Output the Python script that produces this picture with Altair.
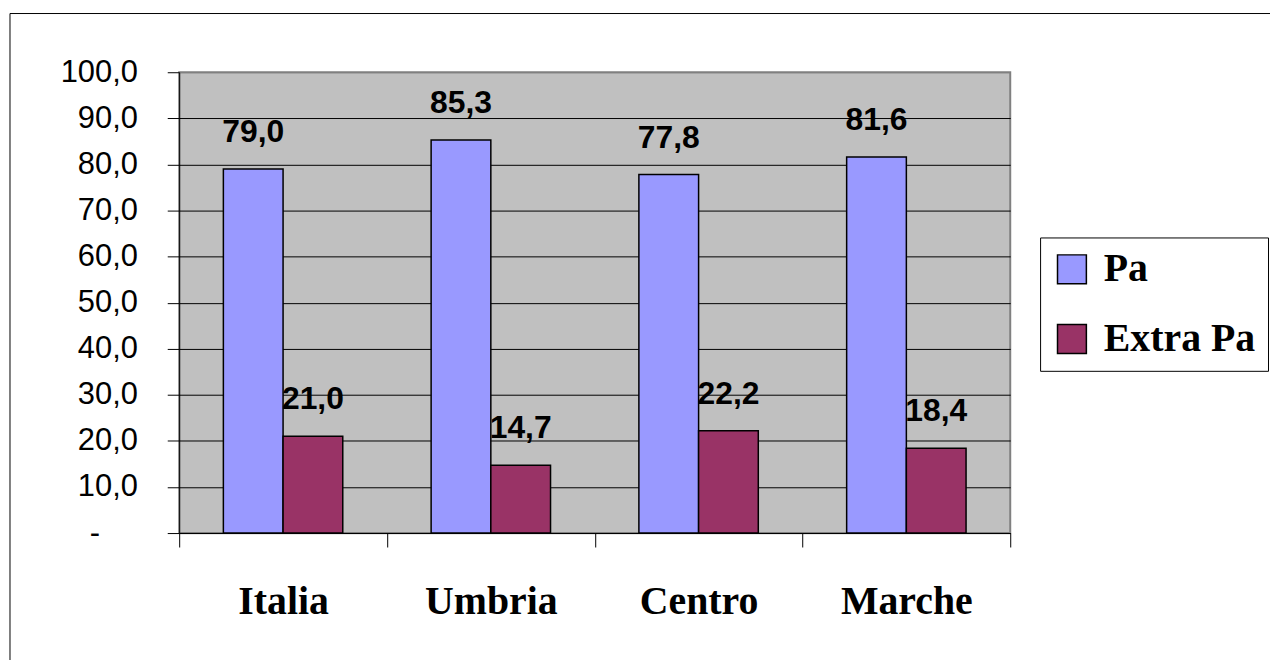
import altair as alt
import pandas as pd

categories = ["Italia", "Umbria", "Centro", "Marche"]
series = ["Pa", "Extra Pa"]
pa_values = [79.0, 85.3, 77.8, 81.6]
extra_values = [21.0, 14.7, 22.2, 18.4]
y_ticks = [0, 10, 20, 30, 40, 50, 60, 70, 80, 90, 100]
colors = ["#9999FF", "#993366"]

rows = []
for c, p, e in zip(categories, pa_values, extra_values):
    rows.append({"cat": c, "serie": "Pa", "val": p})
    rows.append({"cat": c, "serie": "Extra Pa", "val": e})
df = pd.DataFrame(rows)

W, H = 835, 463

x_enc = alt.X(
    "cat:N",
    sort=categories,
    scale=alt.Scale(paddingInner=0, paddingOuter=0),
    axis=alt.Axis(
        title=None,
        labelAngle=0,
        tickBand="extent",
        tickSize=14,
        tickColor="black",
        tickWidth=1,
        domainColor="black",
        domainWidth=1,
        labelFont="Liberation Serif",
        labelFontWeight="bold",
        labelFontSize=40,
        labelColor="black",
        labelBaseline="alphabetic",
        labelPadding=67,
    ),
)
xo_enc = alt.XOffset(
    "serie:N", sort=series, scale=alt.Scale(paddingOuter=0.74, paddingInner=0)
)
y_enc = alt.Y(
    "val:Q",
    scale=alt.Scale(domain=[0, 100], nice=False),
    axis=alt.Axis(
        title=None,
        values=y_ticks,
        tickSize=12,
        tickColor="black",
        domainColor="black",
        grid=True,
        gridColor={"condition": {"test": "datum.value == 100", "value": "#808080"}, "value": "black"},
        gridWidth=1,
        labelFont="Liberation Sans",
        labelFontSize=31,
        labelColor="black",
        labelPadding={"condition": {"test": "datum.value == 0", "value": 68}, "value": 30},
        labelExpr="datum.value == 0 ? '-' : replace(format(datum.value, '.1f'), '.', ',')",
    ),
)

bars = alt.Chart(df).mark_bar(stroke="black", strokeWidth=1.5).encode(
    x=x_enc,
    xOffset=xo_enc,
    y=y_enc,
    color=alt.Color(
        "serie:N",
        scale=alt.Scale(domain=series, range=colors),
        legend=alt.Legend(
            title=None,
            orient="none",
            legendX=865,
            legendY=166,
            direction="vertical",
            symbolType="square",
            symbolSize=841,
            symbolStrokeColor="black",
            symbolStrokeWidth=1.5,
            labelFont="Liberation Serif",
            labelFontWeight="bold",
            labelFontSize=40,
            labelColor="black",
            labelOffset=12,
            labelLimit=500,
            rowPadding=30,
            padding=12,
            strokeColor="black",
            fillColor="white",
        ),
    ),
)

labels = alt.Chart(df).transform_calculate(
    lab="replace(format(datum.val, '.1f'), '.', ',')"
).mark_text(
    font="Liberation Sans", fontWeight="bold", fontSize=32, color="black",
    baseline="alphabetic", dy=-27
).encode(
    x=alt.X("cat:N", sort=categories),
    xOffset=alt.XOffset("serie:N", sort=series),
    y="val:Q",
    text="lab:N",
)

frame = alt.Chart(pd.DataFrame({"a": [0]})).mark_rect(
    filled=False, stroke="black", strokeWidth=1
).encode(
    x=alt.value(-170), x2=alt.value(3000), y=alt.value(-59), y2=alt.value(3000)
)

chart = alt.layer(frame, bars, labels).properties(
    width=W,
    height=H,
    autosize=alt.AutoSizeParams(type="none"),
    padding={"left": 172, "top": 63, "right": 261, "bottom": 126},
    background="white",
).configure_view(
    fill="#C0C0C0", stroke="#808080", strokeWidth=2
)

chart.save("out.html", embed_options={"renderer": "svg", "actions": False})
